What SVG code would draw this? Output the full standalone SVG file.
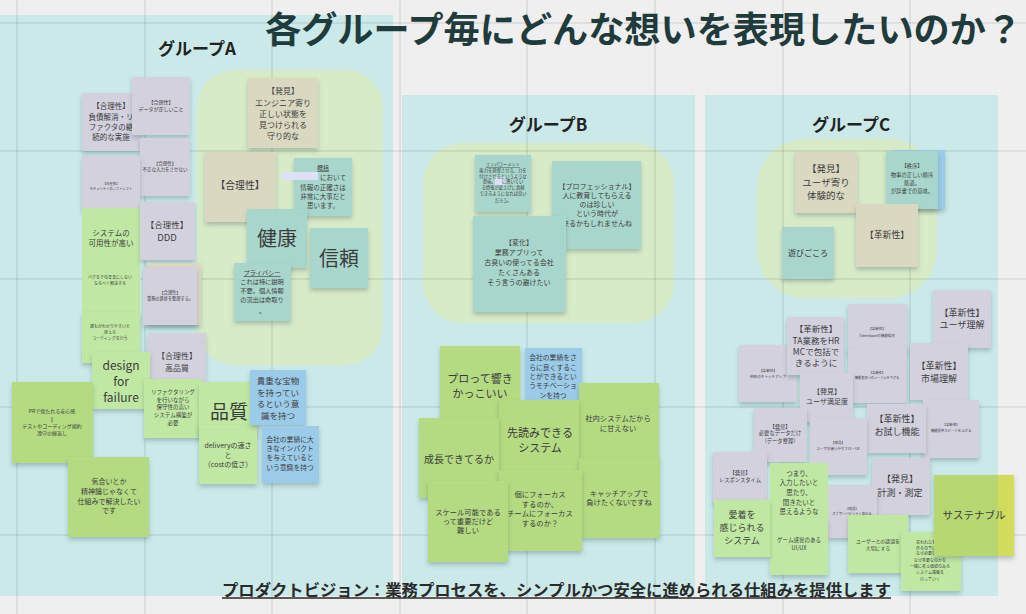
<svg xmlns="http://www.w3.org/2000/svg" width="1026" height="614" viewBox="0 0 1026 614">
<defs>
<filter id="sh" x="-10%" y="-10%" width="120%" height="135%"><feDropShadow dx="0" dy="3" stdDeviation="2" flood-color="#2a4a4a" flood-opacity="0.28"/></filter>
<style>
.t{font-family:"Noto Sans CJK JP","Noto Sans",sans-serif;fill:#3b3d3d;text-anchor:middle;dominant-baseline:central}
.h{font-family:"Noto Sans CJK JP","Noto Sans",sans-serif;font-weight:bold;fill:#222;text-anchor:middle;dominant-baseline:central}
.n{filter:url(#sh)}
.lav{fill:#d4d1df}
.bei{fill:#dbd8c2}
.tea{fill:#a9d6cc}
.grn{fill:#c0e8a3}
.gr2{fill:#b4da82}
.blu{fill:#9ccbea}
.panel{fill:#cbe9e9}
.blob{fill:#d8ebc9}
.grid{stroke:#000;stroke-opacity:0.07;stroke-width:2}
.u{text-decoration:underline}
</style>
</defs>
<rect width="1026" height="614" fill="#efefef"/>
<g id="panels">
<rect class="panel" x="0" y="15" width="393" height="581"/>
<rect class="panel" x="402" y="95" width="293" height="501"/>
<rect class="panel" x="705" y="95" width="293" height="501"/>
<rect class="blob" x="197" y="70" width="186" height="295" rx="38"/>
<rect class="blob" x="423" y="143" width="251" height="180" rx="40"/>
<rect class="blob" x="757" y="139" width="180" height="159" rx="48"/>
</g>
<g id="grid">
<line class="grid" x1="17" y1="0" x2="17" y2="614"/>
<line class="grid" x1="145" y1="0" x2="145" y2="614"/>
<line class="grid" x1="272" y1="0" x2="272" y2="614"/>
<line class="grid" x1="400" y1="0" x2="400" y2="614"/>
<line class="grid" x1="527" y1="0" x2="527" y2="614"/>
<line class="grid" x1="655" y1="0" x2="655" y2="614"/>
<line class="grid" x1="783" y1="0" x2="783" y2="614"/>
<line class="grid" x1="910" y1="0" x2="910" y2="614"/>
<line class="grid" x1="0" y1="23" x2="1026" y2="23"/>
<line class="grid" x1="0" y1="151" x2="1026" y2="151"/>
<line class="grid" x1="0" y1="279" x2="1026" y2="279"/>
<line class="grid" x1="0" y1="407" x2="1026" y2="407"/>
<line class="grid" x1="0" y1="535" x2="1026" y2="535"/>
</g>
<g id="connectors"></g>
<g id="title"><text class="h" x="265" y="27" font-size="36" textLength="757" lengthAdjust="spacingAndGlyphs" style="text-anchor:start;fill:#1f3b3b">各グループ毎にどんな想いを表現したいのか？</text></g>
<g id="label-a"><text class="h" x="197" y="47" font-size="17">グループA</text></g>
<g id="label-b"><text class="h" x="548" y="123" font-size="17">グループB</text></g>
<g id="label-c"><text class="h" x="851" y="123" font-size="17">グループC</text></g>

<!-- Group A -->
<g id="a-fusai"><rect class="n lav" x="82" y="93" width="58" height="58"/><text class="t" font-size="7.5"><tspan x="111" y="105">【合理性】</tspan><tspan x="111" y="116">負債解消・リ</tspan><tspan x="111" y="126">ファクタの継</tspan><tspan x="111" y="136">続的な実施</tspan></text></g>
<g id="a-data"><rect class="n lav" x="132" y="77" width="58" height="58"/><text class="t" font-size="5"><tspan x="161" y="101">【合理性】</tspan><tspan x="161" y="108">データが正しいこと</tspan></text></g>
<g id="a-fusei"><rect class="n lav" x="140" y="138" width="50" height="58"/><text class="t" font-size="4.5"><tspan x="165" y="163">【合理性】</tspan><tspan x="165" y="169">不正な入力をさせない</tspan></text></g>
<g id="a-sec"><rect class="n lav" x="82" y="156" width="58" height="55"/><text class="t" font-size="3.3"><tspan x="111" y="183">【合理性】</tspan><tspan x="111" y="188">セキュリティのシフトレフト</tspan></text></g>
<g id="a-kayou"><rect class="grn" x="82" y="208" width="58" height="56"/><text class="t" font-size="7.5"><tspan x="111" y="232">システムの</tspan><tspan x="111" y="242">可用性が高い</tspan></text></g>
<g id="a-bug"><rect class="grn" x="82" y="262" width="58" height="52"/><text class="t" font-size="4"><tspan x="110" y="277">バグをそのままにしない</tspan><tspan x="110" y="283">なるべく解決する</tspan></text></g>
<g id="a-coding"><rect class="n grn" x="82" y="312" width="58" height="51"/><text class="t" font-size="4"><tspan x="110" y="326">誰もがわかりやすいと</tspan><tspan x="110" y="332">思える</tspan><tspan x="110" y="338">コーディングを行う</tspan></text></g>
<g id="a-ddd"><rect class="n lav" x="140" y="202" width="55" height="58"/><text class="t" font-size="8.5"><tspan x="167" y="224">【合理性】</tspan><tspan x="167" y="237" font-size="9.5">DDD</tspan></text></g>
<g id="a-back"><rect class="n bei" x="147" y="263" width="54" height="62"/></g>
<g id="a-gyomu"><rect class="n lav" x="143" y="267" width="54" height="58"/><text class="t" font-size="4.2"><tspan x="170" y="292">【合理性】</tspan><tspan x="170" y="298">業務の進捗を整理する。</tspan></text></g>
<g id="a-kouhin"><rect class="n lav" x="148" y="333" width="58" height="58"/><text class="t" font-size="8"><tspan x="177" y="355">【合理性】</tspan><tspan x="177" y="367">高品質</tspan></text></g>
<g id="a-design"><rect class="n grn" x="92" y="352" width="58" height="57"/><text class="t" font-size="12"><tspan x="121" y="364">design</tspan><tspan x="121" y="380">for</tspan><tspan x="121" y="396">failure</tspan></text></g>
<g id="a-refac"><rect class="n grn" x="144" y="379" width="58" height="59"/><text class="t" font-size="5.5"><tspan x="173" y="392">リファクタリング</tspan><tspan x="173" y="400">を行いながら</tspan><tspan x="173" y="407">保守性の高い</tspan><tspan x="173" y="415">システム構築が</tspan><tspan x="173" y="423">必要</tspan></text></g>
<g id="a-pr"><rect class="n gr2" x="12" y="382" width="81" height="81"/><text class="t" font-size="5"><tspan x="52" y="410">PRで保たれる安心感</tspan><tspan x="52" y="418">||</tspan><tspan x="52" y="425">テストやコーディング規約</tspan><tspan x="52" y="432">遵守の繰返し</tspan></text></g>
<g id="a-kiai"><rect class="n gr2" x="68" y="457" width="81" height="80"/><text class="t" font-size="7"><tspan x="109" y="481">気合いとか</tspan><tspan x="109" y="491">精神論じゃなくて</tspan><tspan x="109" y="501">仕組みで解決したい</tspan><tspan x="109" y="510">です</tspan></text></g>
<g id="a-hinshitsu"><rect class="n grn" x="199" y="382" width="58" height="55"/><text class="t" font-size="19"><tspan x="229" y="410">品質</tspan></text></g>
<g id="a-delivery"><rect class="n grn" x="199" y="425" width="58" height="59"/><text class="t" font-size="7"><tspan x="228" y="445">deliveryの速さ</tspan><tspan x="228" y="455">と</tspan><tspan x="228" y="464">（costの低さ）</tspan></text></g>
<g id="a-takara"><rect class="n blu" x="250" y="370" width="56" height="55"/><text class="t" font-size="8.5"><tspan x="278" y="380">貴重な宝物</tspan><tspan x="278" y="392">を持ってい</tspan><tspan x="278" y="403">るという意</tspan><tspan x="278" y="415">識を持つ</tspan></text></g>
<g id="a-impact"><rect class="n blu" x="262" y="426" width="57" height="57"/><text class="t" font-size="6.8"><tspan x="290" y="439">会社の業績に大</tspan><tspan x="290" y="448">きなインパクト</tspan><tspan x="290" y="457">を与えていると</tspan><tspan x="290" y="467">いう意識を持つ</tspan></text></g>
<g id="a-hakken"><rect class="n bei" x="248" y="78" width="70" height="70"/><text class="t" font-size="8"><tspan x="283" y="90">【発見】</tspan><tspan x="283" y="102">エンジニア寄り</tspan><tspan x="283" y="113">正しい状態を</tspan><tspan x="283" y="124">見つけられる</tspan><tspan x="283" y="135">守り的な</tspan></text></g>
<g id="a-gouri"><rect class="n bei" x="205" y="152" width="71" height="70"/><text class="t" font-size="9.8"><tspan x="240" y="185">【合理性】</tspan></text></g>
<g id="a-gaikatsu"><rect class="n tea" x="294" y="158" width="58" height="58"/><rect x="281" y="172" width="37" height="8" fill="#dde0f6"/><text class="t" font-size="6.5"><tspan x="323" y="167" class="u" font-size="6">概括</tspan><tspan x="333" y="177">において</tspan><tspan x="323" y="187">情報の正確さは</tspan><tspan x="323" y="196">非常に大事だと</tspan><tspan x="323" y="205">思います。</tspan></text></g>
<g id="a-kenkou"><rect class="n tea" x="247" y="209" width="60" height="59"/><text class="t" font-size="20"><tspan x="277" y="237">健康</tspan></text></g>
<g id="a-shinrai"><rect class="n tea" x="310" y="228" width="58" height="60"/><text class="t" font-size="20"><tspan x="339" y="257">信頼</tspan></text></g>
<g id="a-privacy"><rect class="n tea" x="234" y="263" width="57" height="58"/><text class="t" font-size="6.2"><tspan x="262" y="272" class="u">プライバシー</tspan><tspan x="262" y="281">これは特に説明</tspan><tspan x="262" y="290">不要。個人情報</tspan><tspan x="262" y="299">の流出は命取り</tspan><tspan x="262" y="310">。</tspan></text></g>

<!-- Group B -->
<g id="b-empower"><rect class="n tea" x="475" y="155" width="56" height="57"/><rect x="495" y="177" width="10" height="8" fill="#dde0f6"/><text class="t" font-size="4.3"><tspan x="503" y="164" class="u">エンパワーメント</tspan><tspan x="503" y="170">能力を発揮させる、力を</tspan><tspan x="503" y="176">付けさせるというような</tspan><tspan x="503" y="181">意味。　　に書いてい</tspan><tspan x="503" y="187">る情報が底上げに貢献</tspan><tspan x="503" y="193">できるようになれば良い</tspan><tspan x="503" y="200">だろう。</tspan></text></g>
<g id="b-pro"><rect class="n tea" x="552" y="161" width="89" height="88"/><text class="t" font-size="7"><tspan x="597" y="186">【プロフェッショナル】</tspan><tspan x="597" y="195">人に教育してもらえる</tspan><tspan x="597" y="204">のは珍しい</tspan><tspan x="597" y="213">という時代が</tspan><tspan x="597" y="223">来るかもしれませんね</tspan></text></g>
<g id="b-henka"><rect class="n tea" x="473" y="216" width="93" height="96"/><text class="t" font-size="7"><tspan x="519" y="242">【変化】</tspan><tspan x="519" y="252">業務アプリって</tspan><tspan x="519" y="262">古臭いの使ってる会社</tspan><tspan x="519" y="272">たくさんある</tspan><tspan x="519" y="282">そう言うの避けたい</tspan></text></g>
<g id="b-pro2"><rect class="n gr2" x="440" y="346" width="80" height="82"/><text class="t" font-size="11"><tspan x="480" y="378">プロって響き</tspan><tspan x="480" y="393">かっこいい</tspan></text></g>
<g id="b-moti"><rect class="n blu" x="525" y="348" width="57" height="54"/><text class="t" font-size="6.8"><tspan x="553" y="357">会社の業績をさ</tspan><tspan x="553" y="367">らに良くするこ</tspan><tspan x="553" y="376">とができるとい</tspan><tspan x="553" y="385">うモチベーショ</tspan><tspan x="553" y="395">ンを持つ</tspan></text></g>
<g id="b-shanai"><rect class="n gr2" x="579" y="383" width="80" height="78"/><text class="t" font-size="7.3"><tspan x="618" y="418">社内システムだから</tspan><tspan x="618" y="428">に甘えない</tspan></text></g>
<g id="b-sakiyomi"><rect class="n gr2" x="499" y="400" width="80" height="72"/><text class="t" font-size="11"><tspan x="540" y="432">先読みできる</tspan><tspan x="540" y="447">システム</tspan></text></g>
<g id="b-seichou"><rect class="n gr2" x="419" y="418" width="80" height="80"/><text class="t" font-size="10"><tspan x="459" y="458">成長できてるか</tspan></text></g>
<g id="b-catch"><rect class="n gr2" x="579" y="458" width="81" height="80"/><text class="t" font-size="7.3"><tspan x="619" y="493">キャッチアップで</tspan><tspan x="619" y="502">負けたくないですね</tspan></text></g>
<g id="b-ko"><rect class="n gr2" x="499" y="470" width="83" height="81"/><text class="t" font-size="7.3"><tspan x="540" y="494">個にフォーカス</tspan><tspan x="540" y="504">するのか、</tspan><tspan x="540" y="513">チームにフォーカス</tspan><tspan x="540" y="523">するのか？</tspan></text></g>
<g id="b-scale"><rect class="n gr2" x="428" y="481" width="80" height="81"/><text class="t" font-size="7.3"><tspan x="468" y="512">スケール可能である</tspan><tspan x="468" y="521">って重要だけど</tspan><tspan x="468" y="530">難しい</tspan></text></g>

<!-- Group C -->
<g id="c-hakken"><rect class="n bei" x="795" y="152" width="62" height="61"/><text class="t" font-size="9.5"><tspan x="826" y="168">【発見】</tspan><tspan x="826" y="182">ユーザ寄り</tspan><tspan x="826" y="195">体験的な</tspan></text></g>
<g id="c-back"><rect class="n blu" x="892" y="150" width="53" height="59"/></g>
<g id="c-chitsujo"><rect class="n tea" x="886" y="151" width="52" height="58"/><text class="t" font-size="5.3"><tspan x="912" y="166">【秩序】</tspan><tspan x="912" y="175">物事の正しい順序</tspan><tspan x="912" y="183">筋道。</tspan><tspan x="912" y="191">が辞書での意味。</tspan></text></g>
<g id="c-kakushin"><rect class="n bei" x="856" y="204" width="62" height="63"/><text class="t" font-size="8.8"><tspan x="887" y="234">【革新性】</tspan></text></g>
<g id="c-asobi"><rect class="n tea" x="782" y="227" width="52" height="52"/><text class="t" font-size="8"><tspan x="808" y="252">遊びごころ</tspan></text></g>
<g id="c-userrikai"><rect class="n lav" x="933" y="290" width="58" height="58"/><text class="t" font-size="9"><tspan x="962" y="312">【革新性】</tspan><tspan x="962" y="324">ユーザ理解</tspan></text></g>
<g id="c-talent"><rect class="n lav" x="848" y="304" width="59" height="50"/><text class="t" font-size="3.5"><tspan x="877" y="328">【革新性】</tspan><tspan x="877" y="335">Talentbaseの機能拡充</tspan></text></g>
<g id="c-gijutsu"><rect class="n lav" x="739" y="345" width="58" height="57"/><text class="t" font-size="3.6"><tspan x="768" y="370">【革新性】</tspan><tspan x="768" y="376">技術のキャッチアップ</tspan></text></g>
<g id="c-ta"><rect class="n lav" x="787" y="317" width="57" height="58"/><text class="t" font-size="8.5"><tspan x="816" y="328">【革新性】</tspan><tspan x="816" y="340">TA業務をHR</tspan><tspan x="816" y="351">MCで包括で</tspan><tspan x="816" y="362">きるように</tspan></text></g>
<g id="c-kinou"><rect class="n lav" x="848" y="348" width="59" height="55"/><text class="t" font-size="3.2"><tspan x="877" y="372">【革新性】</tspan><tspan x="877" y="377">機能追加へのハードルを下げる</tspan></text></g>
<g id="c-manzoku"><rect class="n lav" x="800" y="373" width="53" height="49"/><text class="t" font-size="7"><tspan x="827" y="391">【発見】</tspan><tspan x="827" y="401">ユーザ満足度</tspan></text></g>
<g id="c-shijou"><rect class="n lav" x="910" y="343" width="58" height="57"/><text class="t" font-size="9"><tspan x="939" y="365">【革新性】</tspan><tspan x="939" y="378">市場理解</tspan></text></g>
<g id="c-speed"><rect class="n lav" x="923" y="400" width="56" height="58"/><text class="t" font-size="3.4"><tspan x="951" y="424">【革新性】</tspan><tspan x="951" y="430">機能提供スピードを上げる</tspan></text></g>
<g id="c-otameshi"><rect class="n lav" x="867" y="404" width="59" height="49"/><text class="t" font-size="9"><tspan x="897" y="418">【革新性】</tspan><tspan x="897" y="431">お試し機能</tspan></text></g>
<g id="c-hitsuyou"><rect class="n lav" x="754" y="408" width="53" height="54"/><text class="t" font-size="5.3"><tspan x="780" y="427">【発見】</tspan><tspan x="780" y="433">必要なデータだけ</tspan><tspan x="780" y="441">（データ整理）</tspan></text></g>
<g id="c-ux"><rect class="n lav" x="810" y="418" width="57" height="57"/><text class="t" font-size="3.5"><tspan x="838" y="442">【発見】</tspan><tspan x="838" y="448">ユーザの使いやすさUI・UX</tspan></text></g>
<g id="c-response"><rect class="n lav" x="713" y="452" width="54" height="51"/><text class="t" font-size="5.3"><tspan x="740" y="473">【発見】</tspan><tspan x="740" y="480">レスポンスタイム</tspan></text></g>
<g id="c-keisoku"><rect class="n lav" x="872" y="458" width="58" height="57"/><text class="t" font-size="9"><tspan x="900" y="478">【発見】</tspan><tspan x="900" y="492">計測・測定</tspan></text></g>
<g id="c-observ"><rect class="n lav" x="828" y="485" width="49" height="53"/><text class="t" font-size="3.3"><tspan x="852" y="508">【発見】</tspan><tspan x="852" y="513">オブザーバビリティ高める</tspan></text></g>
<g id="c-tsumari"><rect class="grn" x="770" y="463" width="58" height="57"/><text class="t" font-size="6.5"><tspan x="799" y="473">つまり、</tspan><tspan x="799" y="482">入力したいと</tspan><tspan x="799" y="492">思たり、</tspan><tspan x="799" y="502">聞きたいと</tspan><tspan x="799" y="511">思えるような</tspan></text></g>
<g id="c-game"><rect class="n grn" x="770" y="518" width="58" height="57"/><text class="t" font-size="5.5"><tspan x="799" y="540">ゲーム感覚のある</tspan><tspan x="799" y="548">UI/UX</tspan></text></g>
<g id="c-aichaku"><rect class="n grn" x="714" y="500" width="56" height="57"/><text class="t" font-size="9"><tspan x="742" y="514">愛着を</tspan><tspan x="742" y="527">感じられる</tspan><tspan x="742" y="540">システム</tspan></text></g>
<g id="c-giron"><rect class="n grn" x="848" y="515" width="60" height="58"/><text class="t" font-size="4.9"><tspan x="878" y="540">ユーザーとの議論を</tspan><tspan x="878" y="547">大切にする</tspan></text></g>
<g id="c-iwareta"><rect class="n grn" x="901" y="532" width="60" height="59"/><text class="t" font-size="4"><tspan x="930" y="542">言われたものを</tspan><tspan x="930" y="548">作るのではなく</tspan><tspan x="930" y="553">なぜ必要なのか</tspan><tspan x="930" y="560">なぜ重要なのかを</tspan><tspan x="930" y="566">一緒に考え価値のある</tspan><tspan x="930" y="572">システム構築を</tspan><tspan x="930" y="579">行っていく</tspan></text></g>
<g id="c-sustain"><rect class="n" x="934" y="475" width="80" height="81" fill="#d1dc5c"/><rect x="934" y="475" width="64" height="81" fill="#b6d771"/><text class="t" font-size="10.5"><tspan x="974" y="514">サステナブル</tspan></text></g>

<g id="footer"><text x="222" y="589" font-size="16" textLength="669" lengthAdjust="spacingAndGlyphs" style="font-family:'Noto Sans CJK JP','Noto Sans',sans-serif;font-weight:bold;fill:#2a2a2a;dominant-baseline:central">プロダクトビジョン：業務プロセスを、シンプルかつ安全に進められる仕組みを提供します</text><line x1="222" y1="598" x2="891" y2="598" stroke="#2a2a2a" stroke-width="1.5"/></g>
</svg>
